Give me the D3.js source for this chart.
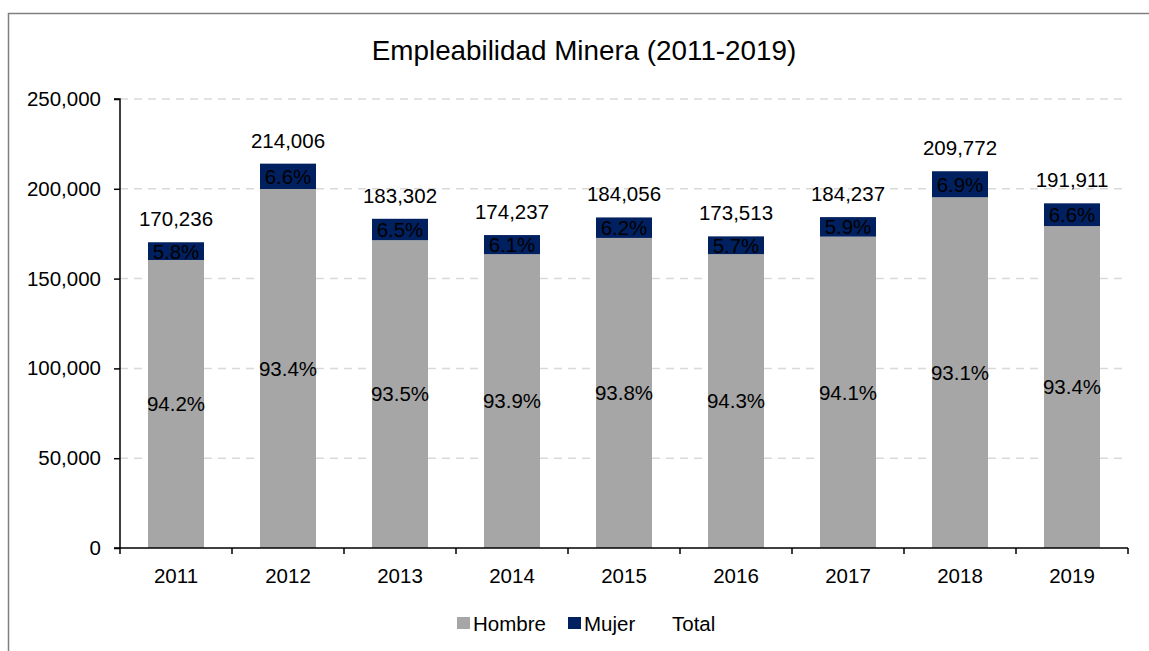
<!DOCTYPE html>
<html>
<head>
<meta charset="utf-8">
<script src="https://cdn.jsdelivr.net/npm/d3@7"></script>
<style>
  html, body { margin: 0; padding: 0; background: #fff; }
  svg { display: block; font-family: "Liberation Sans", Arial, sans-serif; }
</style>
</head>
<body>
<svg id="chart" width="1149" height="651"></svg>
<script>
const years = ["2011","2012","2013","2014","2015","2016","2017","2018","2019"];
const hombre = [160362, 199882, 171387, 163609, 172645, 163623, 173367, 195298, 179245];
const mujer = [9874, 14124, 11915, 10628, 11411, 9890, 10870, 14474, 12666];
const totalLabels = ["170,236","214,006","183,302","174,237","184,056","173,513","184,237","209,772","191,911"];
const hombrePct = ["94.2%","93.4%","93.5%","93.9%","93.8%","94.3%","94.1%","93.1%","93.4%"];
const mujerPct = ["5.8%","6.6%","6.5%","6.1%","6.2%","5.7%","5.9%","6.9%","6.6%"];
const yTicks = [0, 50000, 100000, 150000, 200000, 250000];
const seriesNames = ["Hombre", "Mujer", "Total"];
const seriesColors = ["#a6a6a6", "#002060", "none"];

(function () {
const svg = d3.select("#chart");
const pLeft = 120, pRight = 1128, pTop = 99, pBottom = 548;

// frame
svg.append("rect").attr("x", 8.5).attr("y", 13.5).attr("width", 1300).attr("height", 800)
  .attr("fill", "none").attr("stroke", "#7f7f7f").attr("stroke-width", 1.5);

// title
svg.append("text").attr("x", 584).attr("y", 60).attr("text-anchor", "middle")
  .attr("font-size", 27.8).attr("fill", "#000").text("Empleabilidad Minera (2011-2019)");

const x = d3.scaleBand().domain(years).range([pLeft, pRight]).paddingInner(0.5).paddingOuter(0.25);
const y = d3.scaleLinear().domain([0, 250000]).range([pBottom, pTop]);

// gridlines
svg.append("g").selectAll("line").data(yTicks.filter(d => d > 0)).join("line")
  .attr("x1", pLeft).attr("x2", pRight)
  .attr("y1", d => y(d)).attr("y2", d => y(d))
  .attr("stroke", "#d9d9d9").attr("stroke-width", 1.5).attr("stroke-dasharray", "8,6");

const rows = years.map((yr, i) => ({ yr, h: hombre[i], m: mujer[i], i }));

// bars
svg.append("g").selectAll("rect").data(rows).join("rect")
  .attr("x", d => x(d.yr)).attr("width", x.bandwidth())
  .attr("y", d => y(d.h)).attr("height", d => y(0) - y(d.h))
  .attr("fill", seriesColors[0]);
svg.append("g").selectAll("rect").data(rows).join("rect")
  .attr("x", d => x(d.yr)).attr("width", x.bandwidth())
  .attr("y", d => y(d.h + d.m)).attr("height", d => y(d.h) - y(d.h + d.m))
  .attr("fill", seriesColors[1]);

// labels
const fs = 20.5;
const lab = svg.append("g").attr("font-size", fs).attr("fill", "#000").attr("text-anchor", "middle");
lab.selectAll("text.h").data(rows).join("text").attr("class", "h")
  .attr("x", d => x(d.yr) + x.bandwidth() / 2)
  .attr("y", d => (y(0) + y(d.h)) / 2 + fs * 0.36)
  .text(d => hombrePct[d.i]);
lab.selectAll("text.m").data(rows).join("text").attr("class", "m")
  .attr("x", d => x(d.yr) + x.bandwidth() / 2)
  .attr("y", d => (y(d.h) + y(d.h + d.m)) / 2 + fs * 0.36)
  .text(d => mujerPct[d.i]);
lab.selectAll("text.t").data(rows).join("text").attr("class", "t")
  .attr("x", d => x(d.yr) + x.bandwidth() / 2)
  .attr("y", d => y(d.h + d.m) - 16)
  .text(d => totalLabels[d.i]);

// axes
const yAxis = d3.axisLeft(y).tickValues(yTicks).tickFormat(d3.format(",")).tickSize(6).tickPadding(13);
const gy = svg.append("g").attr("transform", `translate(${pLeft},0)`).call(yAxis);
gy.select(".domain").attr("stroke", "#000").attr("stroke-width", 1.5).attr("d", `M-6,${pTop}H0V${pBottom}H-6`);
gy.selectAll(".tick line").attr("stroke", "#000").attr("stroke-width", 1.5);
gy.selectAll("text").attr("font-size", fs).attr("fill", "#000").attr("font-family", "Liberation Sans, Arial, sans-serif");

const xAxis = d3.axisBottom(x).tickSize(0).tickPadding(20);
const gx = svg.append("g").attr("transform", `translate(0,${pBottom})`).call(xAxis);
gx.select(".domain").attr("stroke", "#000").attr("stroke-width", 1.5).attr("d", `M${pLeft},0H${pRight}`);
gx.selectAll("text").attr("font-size", fs).attr("fill", "#000").attr("font-family", "Liberation Sans, Arial, sans-serif");
// category boundary ticks
const bounds = years.map(yr => x(yr) - x.step() * x.paddingInner() / 2).concat([pRight]);
bounds[0] = pLeft;
svg.append("g").selectAll("line").data(bounds).join("line")
  .attr("x1", d => d).attr("x2", d => d).attr("y1", pBottom).attr("y2", pBottom + 6)
  .attr("stroke", "#000").attr("stroke-width", 1.5);

// legend
const legX = [457, 568, 656];
const leg = svg.append("g");
seriesNames.forEach((n, i) => {
  leg.append("rect").attr("x", legX[i]).attr("y", 617).attr("width", 13).attr("height", 12)
    .attr("fill", seriesColors[i]);
  leg.append("text").attr("x", legX[i] + 16).attr("y", 630.5).attr("font-size", fs)
    .attr("fill", "#000").text(n);
});
})();
</script>
</body>
</html>
